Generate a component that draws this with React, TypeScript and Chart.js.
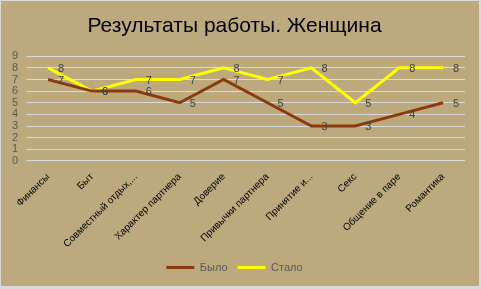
import React, { useEffect, useRef } from "react";
import { Chart, registerables } from "chart.js";

Chart.register(...registerables);

const categories = [
  "Финансы",
  "Быт",
  "Совместный отдых,...",
  "Характер партнера",
  "Доверие",
  "Привычки партнера",
  "Принятие и...",
  "Секс",
  "Общение в паре",
  "Романтика",
];
const bylo = [7, 6, 6, 5, 7, 5, 3, 3, 4, 5];
const stalo = [8, 6, 7, 7, 8, 7, 8, 5, 8, 8];
const yTicks = [0, 1, 2, 3, 4, 5, 6, 7, 8, 9];

const FONT = "'Liberation Sans', 'DejaVu Sans', sans-serif";

const bgPlugin = {
  id: "bg",
  beforeDraw(chart: any) {
    const { ctx, width, height } = chart;
    ctx.save();
    ctx.fillStyle = "#D9D9D9";
    ctx.fillRect(0, 0, width, height);
    ctx.fillStyle = "#BCAA7E";
    ctx.fillRect(1, 1, width - 3, height - 4);
    ctx.restore();
  },
};

const labelPlugin = {
  id: "vlabels",
  afterDatasetsDraw(chart: any) {
    const { ctx } = chart;
    ctx.save();
    ctx.font = `11px ${FONT}`;
    ctx.fillStyle = "#404040";
    ctx.textAlign = "left";
    ctx.textBaseline = "middle";
    chart.data.datasets.forEach((ds: any, i: number) => {
      const meta = chart.getDatasetMeta(i);
      meta.data.forEach((pt: any, j: number) => {
        ctx.fillText(String(ds.data[j]), pt.x + 10, pt.y + 1);
      });
    });
    ctx.restore();
  },
};

export default function App() {
  const ref = useRef<HTMLCanvasElement>(null);
  useEffect(() => {
    document.body.style.margin = "0";
    const chart = new Chart(ref.current!, {
      type: "line",
      data: {
        labels: categories,
        datasets: [
          {
            label: "Было",
            data: bylo,
            borderColor: "#8B3A0E",
            backgroundColor: "#8B3A0E",
            borderWidth: 3,
            pointRadius: 0,
            pointStyle: "line",
            tension: 0,
          },
          {
            label: "Стало",
            data: stalo,
            borderColor: "#FFFF00",
            backgroundColor: "#FFFF00",
            borderWidth: 3,
            pointRadius: 0,
            pointStyle: "line",
            tension: 0,
          },
        ],
      },
      options: {
        responsive: false,
        animation: false,
        layout: { padding: { left: 4, right: 16, top: 4, bottom: 6 } },
        plugins: {
          title: {
            display: true,
            text: "Результаты работы. Женщина",
            color: "#000000",
            font: { family: FONT, size: 21, weight: "normal" },
            padding: { top: 10, bottom: 17 },
          },
          legend: {
            position: "bottom",
            labels: {
              usePointStyle: true,
              pointStyleWidth: 28,
              color: "#595959",
              font: { family: FONT, size: 11 },
              padding: 10,
            },
          },
          tooltip: { enabled: false },
        },
        scales: {
          x: {
            offset: true,
            grid: { display: false },
            border: { display: false },
            ticks: {
              color: "#000000",
              font: { family: FONT, size: 10 },
              minRotation: 45,
              maxRotation: 45,
              autoSkip: false,
              padding: 2,
            },
          },
          y: {
            min: 0,
            max: 9,
            afterBuildTicks(axis: any) {
              axis.ticks = yTicks.map((v) => ({ value: v }));
            },
            grid: { color: "#D9D9D9", drawTicks: false, lineWidth: 1 },
            border: { display: false },
            ticks: {
              color: "#595959",
              font: { family: FONT, size: 11 },
              padding: 8,
              autoSkip: false,
            },
          },
        },
      },
      plugins: [bgPlugin, labelPlugin],
    });
    return () => chart.destroy();
  }, []);
  return (
    <div style={{ width: 481, height: 289 }}>
      <canvas ref={ref} width={481} height={289} />
    </div>
  );
}
